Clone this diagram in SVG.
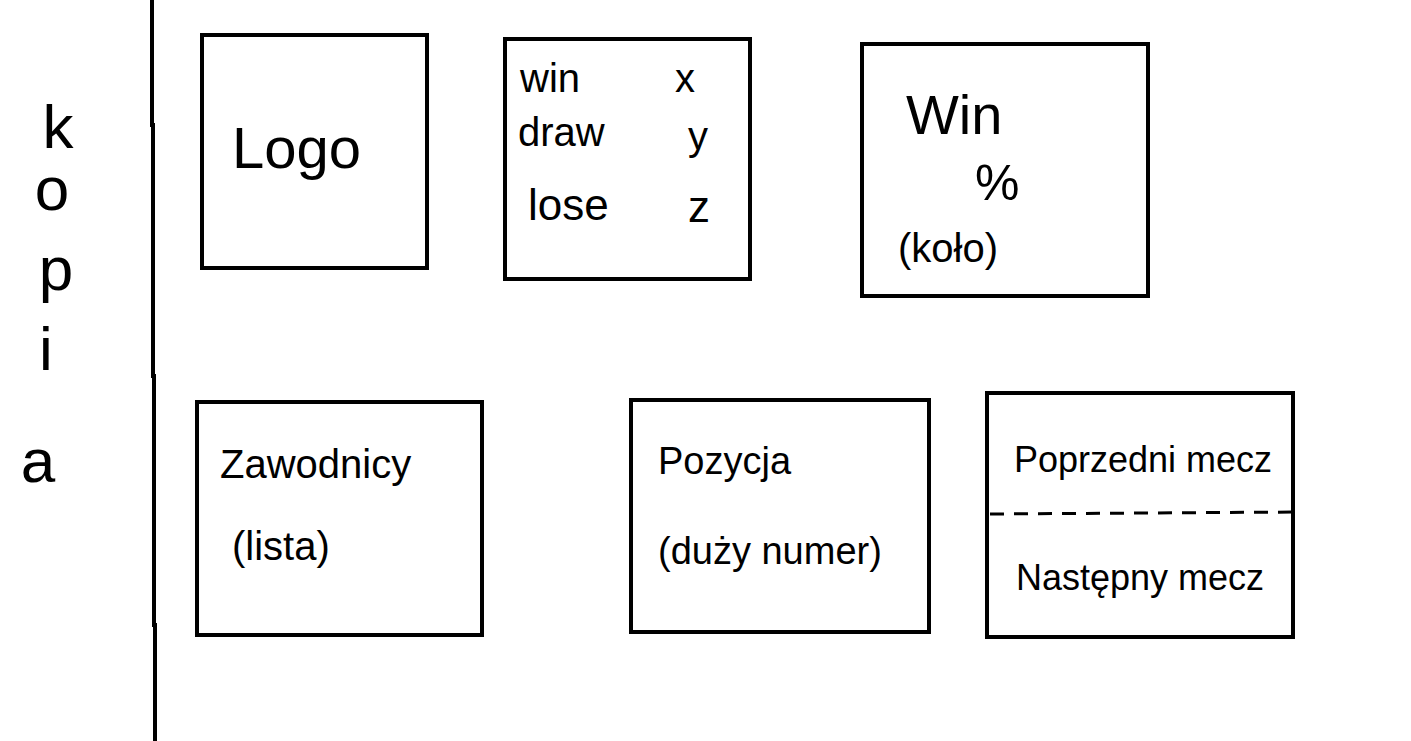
<svg xmlns="http://www.w3.org/2000/svg" width="1411" height="741" viewBox="0 0 1411 741">
<style>
.box{fill:none;stroke:#000;stroke-width:4}
.t{font-family:"Liberation Sans","DejaVu Sans",sans-serif;fill:#000}
.line{stroke:#000;stroke-width:4;fill:none}
</style>
<rect width="1411" height="741" fill="#fff"/>
<g id="connectors">
<polyline class="line" points="152,0 152,125 153,125 153,376 154,376 154,625 155,625 155,741"/>
</g>
<g id="kopia" class="t" font-size="62" text-anchor="middle">
<text x="58" y="148">k</text>
<text x="52" y="210">o</text>
<text x="56" y="290">p</text>
<text x="46" y="370">i</text>
<text x="38" y="482">a</text>
</g>
<g id="logo">
<rect class="box" x="202" y="35" width="225" height="233"/>
<text class="t" x="232" y="168" font-size="58">Logo</text>
</g>
<g id="stats">
<rect class="box" x="505" y="39" width="245" height="240"/>
<text class="t" x="520" y="92" font-size="40">win</text>
<text class="t" x="675" y="92" font-size="40">x</text>
<text class="t" x="518" y="146" font-size="40">draw</text>
<text class="t" x="688" y="150" font-size="40">y</text>
<text class="t" x="528" y="220" font-size="44">lose</text>
<text class="t" x="688" y="222" font-size="44">z</text>
</g>
<g id="winpct">
<rect class="box" x="862" y="44" width="286" height="252"/>
<text class="t" x="906" y="134" font-size="56">Win</text>
<text class="t" x="975" y="200" font-size="50">%</text>
<text class="t" x="898" y="262" font-size="40">(koło)</text>
</g>
<g id="zawodnicy">
<rect class="box" x="197" y="402" width="285" height="233"/>
<text class="t" x="220" y="478" font-size="40">Zawodnicy</text>
<text class="t" x="232" y="560" font-size="40">(lista)</text>
</g>
<g id="pozycja">
<rect class="box" x="631" y="400" width="298" height="232"/>
<text class="t" x="658" y="474" font-size="38">Pozycja</text>
<text class="t" x="658" y="564" font-size="38">(duży numer)</text>
</g>
<g id="mecze">
<rect class="box" x="987" y="393" width="306" height="244"/>
<line x1="990" y1="514" x2="1300" y2="512" stroke="#000" stroke-width="3" stroke-dasharray="14,10"/>
<text class="t" x="1014" y="472" font-size="36">Poprzedni mecz</text>
<text class="t" x="1016" y="590" font-size="36">Następny mecz</text>
</g>
</svg>
